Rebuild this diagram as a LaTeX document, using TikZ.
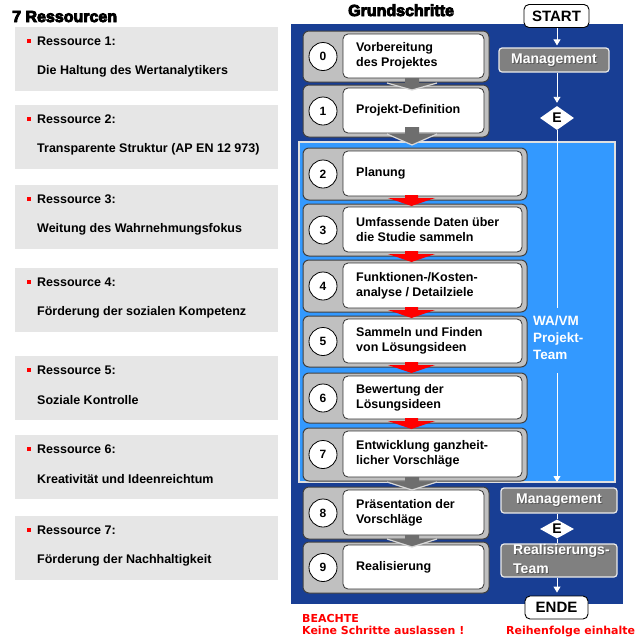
\documentclass[tikz,border=0pt]{standalone}
\usepackage{fontspec}
\setmainfont{Liberation Sans}
\newfontfamily\heavyfont{Liberation Sans}[BoldFeatures={FakeBold=5.5}]
\newfontfamily\verdfont{DejaVu Sans}
\usetikzlibrary{shapes.geometric,arrows.meta}
\definecolor{dblue}{RGB}{24,62,148}
\definecolor{lblue}{RGB}{51,153,255}
\definecolor{pgray}{RGB}{230,230,230}
\definecolor{bgray}{RGB}{192,192,192}
\definecolor{mgray}{RGB}{128,128,128}
\definecolor{agray}{RGB}{110,110,110}
\newcommand\fs[2]{\fontsize{#1}{#2}\selectfont}
\newcommand\stepbox[5]{%
  \pgfmathsetmacro\sw{#4-303}\pgfmathsetmacro\sh{#3-#2}%
  \pgfmathsetmacro\iw{#4-5-343}\pgfmathsetmacro\ih{#3-#2-7}%
  \pgfmathsetmacro\cy{(#2+#3)/2}%
  \node[outerbox, minimum width=\sw pt, minimum height=\sh pt] (o#1) at (303,#2) {};
  \node[innerbox, minimum width=\iw pt, minimum height=\ih pt] (s#1) at (343,#2+3) {};
  \node[numcircle] (c#1) at (323,\cy) {#1};
  \node[steptext] (t#1) at (356,\cy-0.5) {#5};
}
\newcommand\grayarrow[3]{%
  \fill[agray] (405,#1) -- (419,#1) -- (419,#2) -- (437,#2) -- (412,#3) -- (387,#2) -- (405,#2) -- cycle;
  \draw[black!15, line width=1.2pt, line join=round] (387,#2) -- (412,#3) -- (437,#2);
}
\newcommand\redarrow[3]{%
  \fill[red] (405,#1) -- (418,#1) -- (418,#2) -- (435,#2) -- (411.5,#3) -- (388,#2) -- (405,#2) -- cycle;
}
\begin{document}
\begin{tikzpicture}[x=1pt,y=-1pt,
  font=\bfseries\fs{12.5}{15},
  box/.style={inner sep=0pt, outer sep=0pt, anchor=north west},
  panel/.style={box, fill=pgray},
  bullet/.style={fill=red, minimum size=3.5pt, inner sep=0pt},
  outerbox/.style={box, fill=bgray, draw=black!75, line width=1pt, rounded corners=6pt},
  innerbox/.style={box, fill=white, draw=black!80, line width=0.8pt, rounded corners=5pt},
  numcircle/.style={circle, fill=white, draw=black, line width=0.8pt, minimum size=28pt, inner sep=0pt, font=\bfseries\fs{12}{14}},
  steptext/.style={anchor=west, align=left, inner sep=0pt},
  termbox/.style={draw=black, fill=white, line width=0.9pt, rounded corners=5pt, inner sep=0pt, font=\bfseries\fs{15}{17}},
  mbox/.style={fill=mgray, draw=black!8, line width=1.2pt, rounded corners=3pt, inner sep=0pt},
  mtext/.style={text=white, inner sep=0pt, font=\bfseries\fs{14}{16}},
  stext/.style={text=black!65, inner sep=0pt, font=\bfseries\fs{14}{16}},
  dia/.style={diamond, fill=white, inner sep=0pt, font=\bfseries\fs{14}{16}},
  wline/.style={white, line width=0.9pt},
  warrow/.style={wline, -{Triangle[width=7pt,length=6pt]}},
  redtext/.style={text=red, inner sep=0pt, anchor=base west, font=\verdfont\bfseries\fs{11}{13}},
  heading/.style={anchor=base west, inner sep=0pt, font=\heavyfont\bfseries\fs{16}{18}}
]
\useasboundingbox (0,0) rectangle (636,638);
% left column
\node[heading] (rtitle) at (12,22) {7 Ressourcen};
\foreach \i/\t/\s in {1/27/Die Haltung des Wertanalytikers,
  2/105/Transparente Struktur (AP EN 12 973),
  3/185/Weitung des Wahrnehmungsfokus,
  4/268/Förderung der sozialen Kompetenz,
  5/356/Soziale Kontrolle,
  6/435/Kreativität und Ideenreichtum,
  7/516/Förderung der Nachhaltigkeit}{
  \node[panel, minimum width=263pt, minimum height=64pt] (r\i) at (15,\t) {};
  \node[bullet] (b\i) at (29,\t+14) {};
  \node[anchor=west, inner sep=0pt] (h\i) at (37,\t+14) {Ressource \i:};
  \node[anchor=west, inner sep=0pt] (d\i) at (37,\t+44) {\s};
}
% heading
\node[heading] (gtitle) at (348,16) {Grundschritte};
% panels
\node[box, fill=dblue, minimum width=332pt, minimum height=580pt] (bp) at (291,24) {};
\node[box, fill=lblue, draw=black!12, line width=1.5pt, minimum width=316pt, minimum height=340pt] (lbp) at (299,142) {};
% steps
\stepbox{0}{31}{82}{489}{Vorbereitung\\des Projektes}
\stepbox{1}{85}{137}{489}{Projekt-Definition}
\stepbox{2}{148}{200}{527}{Planung}
\stepbox{3}{204}{256}{527}{Umfassende Daten über\\die Studie sammeln}
\stepbox{4}{260}{312}{527}{Funktionen-/Kosten-\\analyse / Detailziele}
\stepbox{5}{316}{367}{527}{Sammeln und Finden\\von Lösungsideen}
\stepbox{6}{373}{423}{527}{Bewertung der\\Lösungsideen}
\stepbox{7}{428}{481}{527}{Entwicklung ganzheit-\\licher Vorschläge}
\stepbox{8}{487}{539}{489}{Präsentation der\\Vorschläge}
\stepbox{9}{542}{593}{489}{Realisierung}
% arrows between steps
\grayarrow{78}{83}{90}
\grayarrow{127}{134}{145}
\redarrow{195}{198}{206}
\redarrow{251}{254}{262}
\redarrow{307}{310}{318}
\redarrow{362}{365}{373}
\redarrow{418}{421}{429}
\grayarrow{477}{482}{490}
\grayarrow{535}{539}{547}
% right column
\node[termbox, minimum width=65pt, minimum height=23pt] (start) at (556.5,16) {START};
\node[mbox, minimum width=110pt, minimum height=24pt] (m1) at (554,60) {};
\node[stext] (m1s) at (555,61) {Management};
\node[mtext] (m1t) at (554,60) {Management};
\node[dia, minimum width=34pt, minimum height=24pt] (e1) at (557,118) {E};
\node[anchor=north west, align=left, inner sep=0pt, text=white, font=\bfseries\fs{13.5}{17}] (team) at (533,316) {WA/VM\\Projekt-\\Team};
\coordinate (g1) at (557,308);
\coordinate (g2) at (557,373);
\node[mbox, minimum width=116pt, minimum height=25pt] (m2) at (559,500.5) {};
\node[stext] (m2s) at (560,501.5) {Management};
\node[mtext] (m2t) at (559,500.5) {Management};
\node[dia, minimum width=34pt, minimum height=19pt] (e2) at (557,529) {E};
\node[mbox, minimum width=116pt, minimum height=33pt] (rt) at (559,560.5) {};
\node[anchor=north west, align=left, inner sep=0pt, text=black!65, font=\bfseries\fs{14}{19}] (rts) at (514,545) {Realisierungs-\\Team};
\node[anchor=north west, align=left, inner sep=0pt, text=white, font=\bfseries\fs{14}{19}] (rtt) at (513,544) {Realisierungs-\\Team};
\node[termbox, minimum width=63pt, minimum height=23pt] (ende) at (556.5,607.5) {ENDE};
% connectors
\draw[warrow, shorten >=2pt] (start.south -| e1) -- (m1.north -| e1);
\draw[warrow, shorten >=3pt] (m1.south -| e1) -- (e1.north);
\draw[wline] (e1.south) -- (g1);
\draw[warrow] (g2) -- (g2 |- lbp.south);
\draw[wline] (m2.south -| e2) -- (e2.north);
\draw[wline] (e2.south) -- (rt.north -| e2);
\draw[warrow, shorten >=3pt] (rt.south -| e2) -- (ende.north -| e2);
% notes
\node[redtext] (n1) at (302,622.5) {BEACHTE};
\node[redtext] (n2) at (302,634.5) {Keine Schritte auslassen !};
\node[redtext] (n3) at (506,634.5) {Reihenfolge einhalte};
\end{tikzpicture}
\end{document}
